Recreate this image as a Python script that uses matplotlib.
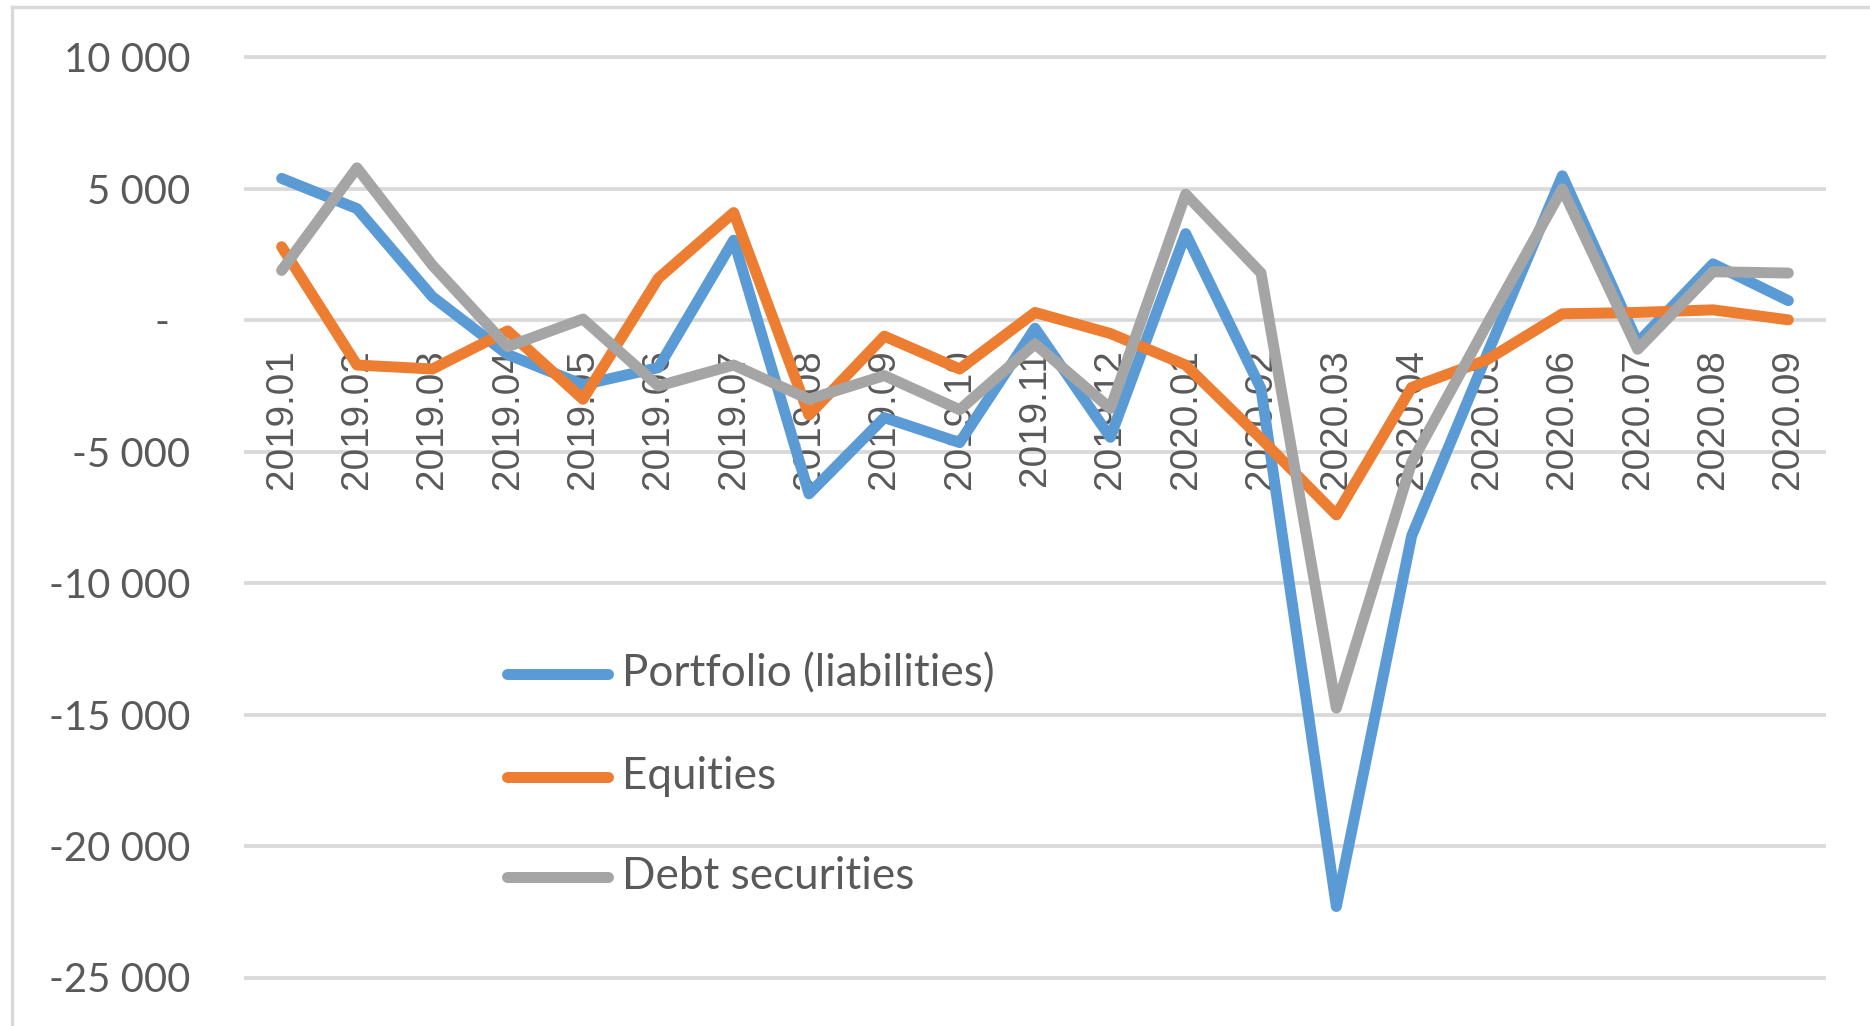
import matplotlib
matplotlib.use('Agg')
import matplotlib.pyplot as plt
from matplotlib.lines import Line2D
from matplotlib.transforms import offset_copy
from matplotlib.textpath import TextPath
from matplotlib.font_manager import FontProperties

# ---------------- data ----------------
categories = ['2019.01', '2019.02', '2019.03', '2019.04', '2019.05', '2019.06', '2019.07',
              '2019.08', '2019.09', '2019.10', '2019.11', '2019.12', '2020.01', '2020.02',
              '2020.03', '2020.04', '2020.05', '2020.06', '2020.07', '2020.08', '2020.09']
portfolio = [5400, 4250, 900, -1300, -2450, -1800, 3050, -6600, -3700, -4650, -300, -4450,
             3300, -2600, -22300, -8200, -1300, 5500, -850, 2150, 750]
equities = [2800, -1700, -1850, -400, -3000, 1600, 4100, -3600, -600, -1850, 300, -500,
            -1700, -4500, -7400, -2550, -1500, 250, 300, 400, 20]
debt = [1900, 5800, 2100, -1000, 50, -2500, -1700, -3000, -2100, -3400, -900, -3350,
        4800, 1800, -14750, -5400, -150, 5000, -1100, 1850, 1800]
series_names = ['Portfolio (liabilities)', 'Equities', 'Debt securities']
yticks = [10000, 5000, 0, -5000, -10000, -15000, -20000, -25000]
ytick_labels = ['10 000', '5 000', '-  ', '-5 000', '-10 000', '-15 000', '-20 000', '-25 000']

colors = ['#5B9BD5', '#ED7D31', '#A5A5A5']
text_color = '#595959'
grid_color = '#D9D9D9'

W, H = 1870, 1026
DPI = 100
fig = plt.figure(figsize=(W / DPI, H / DPI), dpi=DPI)
fig.patch.set_facecolor('white')


def px(x):
    return x / W


def py(y):
    return 1 - y / H


def fit_size(text, family, target_px):
    tp = TextPath((0, 0), text, size=100, prop=FontProperties(family=family))
    w = tp.get_extents().width
    return 100 * target_px / (w * DPI / 72)


# axes placement: 10000 -> y=57.5px, -25000 -> y=977.5px
ymin, ymax = -26000, 10500
ppu = (977.5 - 57.5) / 35000.0
top_px = 57.5 - (ymax - 10000) * ppu
bot_px = 977.5 + (-25000 - ymin) * ppu
left_px, right_px = 244, 1826
ax = fig.add_axes([px(left_px), py(bot_px), px(right_px) - px(left_px), (bot_px - top_px) / H])
ax.set_xlim(-0.5, len(categories) - 0.5)
ax.set_ylim(ymin, ymax)
for s in ax.spines.values():
    s.set_visible(False)
ax.set_facecolor('none')

ax.set_yticks(yticks)
fs_y = fit_size('10 000', 'Lato', 122)
ax.set_yticklabels(ytick_labels, family='Lato', fontsize=fs_y, color=text_color)
ax.tick_params(axis='y', length=0, pad=(left_px - 190) * 72 / DPI)
ax.set_xticks([])
ax.yaxis.grid(True, color=grid_color, linewidth=2.7)
ax.set_axisbelow(True)

# category labels next to the zero line
fs_x = fit_size('2020.06', 'Liberation Sans', 136)
trans = offset_copy(ax.transData, fig=fig, x=0, y=-29, units='dots')
for i, c in enumerate(categories):
    ax.text(i, 0, c, transform=trans, rotation=90, ha='center', va='top',
            family='Liberation Sans', fontsize=fs_x, color=text_color, zorder=2, clip_on=False)

lw = 7.9
xs = list(range(len(categories)))
for vals, col in zip([portfolio, equities, debt], colors):
    ax.plot(xs, vals, color=col, linewidth=lw, solid_capstyle='round',
            solid_joinstyle='round', zorder=3)

# legend (manual, inside plot area)
fs_leg = fit_size('Portfolio (liabilities)', 'Lato', 366)
rows = [673.5, 776.5, 876.5]
cap = lw * DPI / 72 / 2
for name, col, yy in zip(series_names, colors, rows):
    fig.add_artist(Line2D([px(502 + cap), px(613 - cap)], [py(yy), py(yy)],
                          transform=fig.transFigure, color=col, linewidth=lw,
                          solid_capstyle='round'))
    fig.text(px(622), py(yy + 12.5), name, ha='left', va='baseline', family='Lato',
             fontsize=fs_leg, color=text_color)

# chart-area border (left and top visible)
fig.add_artist(Line2D([px(12), px(12)], [py(7), 0], transform=fig.transFigure,
                      color=grid_color, linewidth=2.4))
fig.add_artist(Line2D([px(12), 1], [py(7), py(7)], transform=fig.transFigure,
                      color=grid_color, linewidth=2.4))

fig.savefig('out.png', dpi=DPI, facecolor='white')
